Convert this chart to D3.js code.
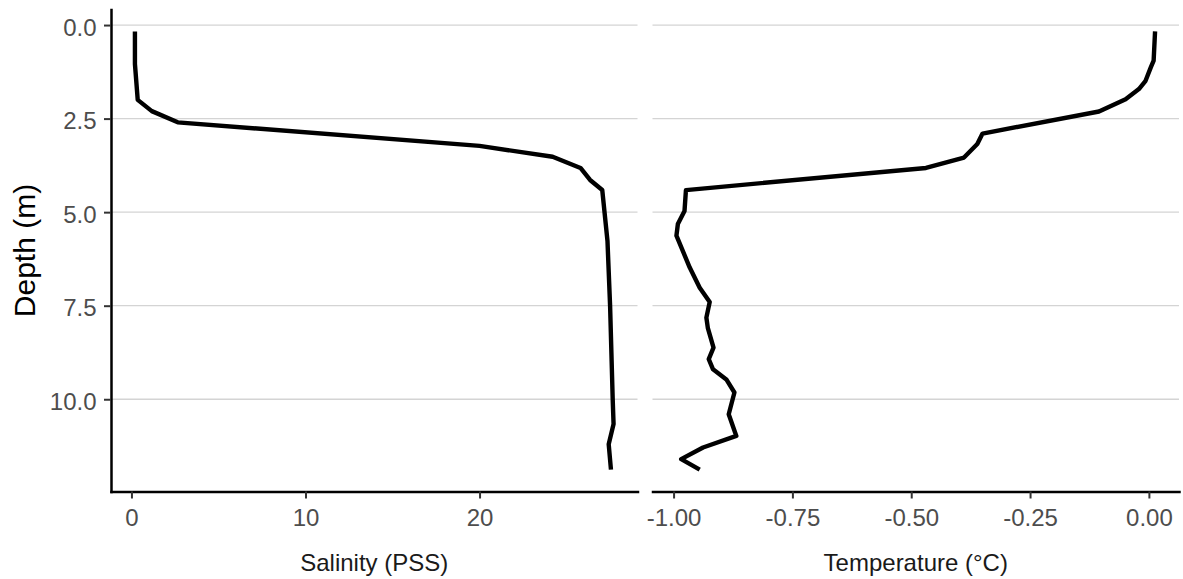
<!doctype html>
<html lang="en">
<head>
  <meta charset="utf-8">
  <title>Depth profiles</title>
  <script src="https://d3js.org/d3.v7.min.js"></script>
  <style>
    body { margin: 0; background: #fff; }
    svg { font-family: "Liberation Sans", Arial, sans-serif; }
  </style>
</head>
<body>
<div id="vis"></div>
<script>
// profile (depth in m)
const salDepth = [0.17, 1.04, 2.0, 2.3, 2.6, 3.23, 3.52, 3.82, 4.14, 4.41, 5.77, 7.5, 10.0, 10.66, 11.2, 11.88];
const salinity = [0.2, 0.2, 0.36, 1.17, 2.66, 20.0, 24.2, 25.8, 26.35, 27.05, 27.35, 27.5, 27.65, 27.7, 27.42, 27.55];

const tempDepth = [0.17, 0.95, 1.13, 1.49, 1.71, 1.98, 2.31, 2.90, 3.18, 3.54, 3.82, 4.41, 4.97, 5.32, 5.63,
                   6.48, 7.02, 7.40, 7.82, 8.09, 8.62, 8.93, 9.20, 9.47, 9.82, 10.40, 10.98, 11.29, 11.60, 11.88];
const temperature = [0.013, 0.010, 0.004, -0.007, -0.021, -0.049, -0.105, -0.350, -0.361, -0.389, -0.469, -0.974, -0.977, -0.991, -0.994,
                     -0.966, -0.945, -0.924, -0.931, -0.928, -0.916, -0.926, -0.917, -0.889, -0.872, -0.884, -0.868, -0.938, -0.984, -0.945];

const depthTicks = [0, 2.5, 5, 7.5, 10];
const salTicks = [0, 10, 20];
const tempTicks = [-1, -0.75, -0.5, -0.25, 0];

const panels = [
    { label: 'Salinity (PSS)', depth: salDepth, values: salinity, ticks: salTicks, fmt: d => d.toFixed(0), x0: 111, x1: 637.5 },
    { label: 'Temperature (°C)', depth: tempDepth, values: temperature, ticks: tempTicks, fmt: d => d.toFixed(2), x0: 652.5, x1: 1179 },
];

const w = 1183, h = 579;
const panelTop = 9.5, panelBottom = 491.5;

// ggplot-style 5% expansion
function expand(ext) {
    const pad = (ext[1] - ext[0]) * 0.05;
    return [ext[0] - pad, ext[1] + pad];
}

const yScale = d3.scaleLinear()
    .domain(expand(d3.extent(salDepth.concat(tempDepth))))
    .range([panelTop, panelBottom]);

const svg = d3.select('#vis')
    .append('svg')
        .attr('width', w)
        .attr('height', h);

panels.forEach((p, i) => {
    const x = d3.scaleLinear()
        .domain(expand(d3.extent(p.values)))
        .range([p.x0, p.x1]);

    const g = svg.append('g');

    g.selectAll('.grid')
        .data(depthTicks)
        .enter()
        .append('line')
            .attr('class', 'grid')
            .attr('x1', p.x0)
            .attr('x2', p.x1)
            .attr('y1', d => yScale(d))
            .attr('y2', d => yScale(d))
            .attr('stroke', '#d4d4d4')
            .attr('stroke-width', 1.3);

    const line = d3.line()
        .x(d => x(d[1]))
        .y(d => yScale(d[0]));

    g.append('path')
        .datum(p.depth.map((d, j) => [d, p.values[j]]))
        .attr('d', line)
        .attr('fill', 'none')
        .attr('stroke', '#000')
        .attr('stroke-width', 4.4)
        .attr('stroke-linejoin', 'round');

    const xAxis = g.append('g')
        .attr('transform', 'translate(0,' + panelBottom + ')')
        .call(d3.axisBottom(x).tickValues(p.ticks).tickFormat(p.fmt).tickSize(7).tickSizeOuter(0));

    xAxis.select('.domain')
        .attr('stroke', '#000')
        .attr('stroke-width', 2.5)
        .attr('stroke-linecap', 'square');
    xAxis.selectAll('.tick line')
        .attr('stroke', '#333')
        .attr('stroke-width', 2);
    xAxis.selectAll('.tick text')
        .attr('y', 34.5)
        .attr('dy', null)
        .attr('fill', '#4d4d4d')
        .style('font-size', '24px');

    g.append('text')
        .attr('x', (p.x0 + p.x1) / 2)
        .attr('y', 571)
        .attr('text-anchor', 'middle')
        .attr('fill', '#1a1a1a')
        .style('font-size', '24px')
        .text(p.label);

    if (i === 0) {
        const yAxis = g.append('g')
            .attr('transform', 'translate(' + p.x0 + ',0)')
            .call(d3.axisLeft(yScale).tickValues(depthTicks).tickFormat(d => d.toFixed(1)).tickSize(7).tickSizeOuter(0));

        yAxis.select('.domain')
            .attr('stroke', '#000')
            .attr('stroke-width', 2.5)
            .attr('stroke-linecap', 'square');
        yAxis.selectAll('.tick line')
            .attr('stroke', '#333')
            .attr('stroke-width', 2);
        yAxis.selectAll('.tick text')
            .attr('x', -14.5)
            .attr('dy', '0.42em')
            .attr('fill', '#4d4d4d')
            .style('font-size', '24px');
    }
});

svg.append('text')
    .attr('transform', 'translate(35,' + ((panelTop + panelBottom) / 2) + ') rotate(-90)')
    .attr('text-anchor', 'middle')
    .attr('fill', '#000')
    .style('font-size', '30px')
    .text('Depth (m)');
</script>
</body>
</html>
